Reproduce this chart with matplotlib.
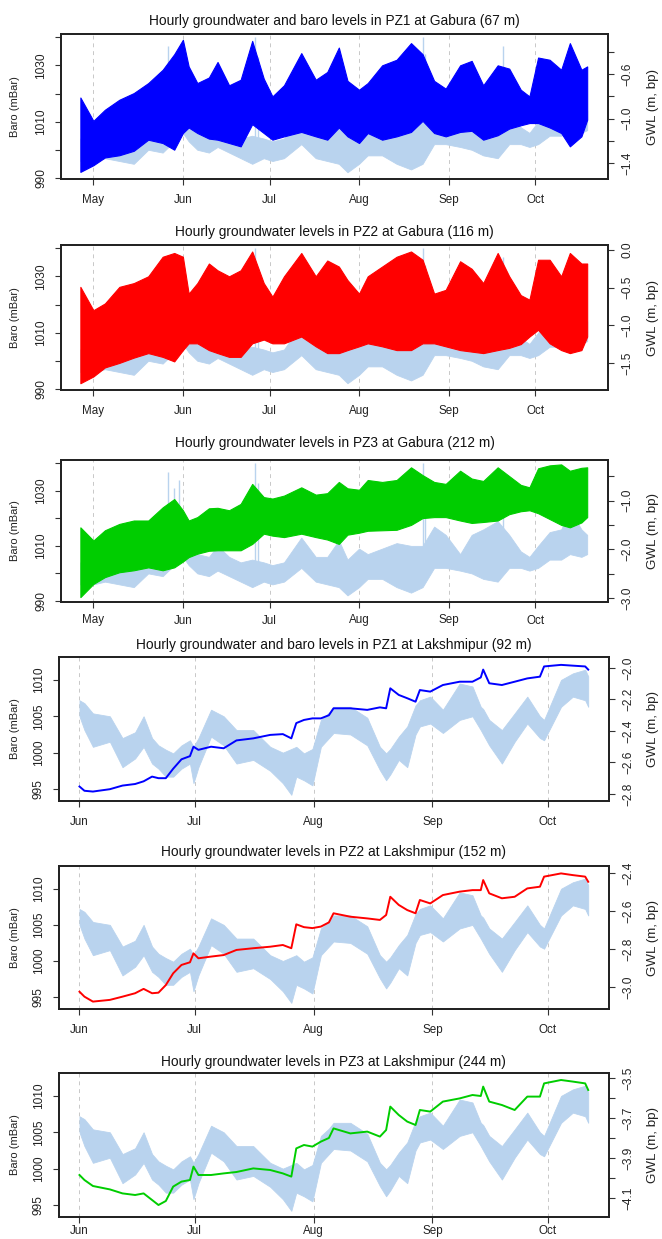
import numpy as np
import matplotlib
matplotlib.use("Agg")
import matplotlib.pyplot as plt
import matplotlib.dates as mdates

plt.rcParams['font.family'] = ['Liberation Sans', 'DejaVu Sans']

BARO_COL = '#B9D3EE'

# ---- Gabura (days since 1 May), envelopes of the tidal signal ----
g_day = [-4.5, 0, 4, 9, 14, 19, 24, 28, 31, 33, 36, 40, 43, 47, 51, 55, 59, 62, 66, 72,
         77, 81, 85, 88, 92, 95, 100, 105, 110, 114, 118, 122, 127, 131, 135, 140, 144,
         148, 151, 154, 158, 162, 165, 169, 171]
g_baro_hi = [1004, 1004, 1004, 1004, 1005, 1007, 1009, 1011, 1015, 1009, 1007, 1006, 1010,
             1006, 1004, 1005, 1004, 1003, 1004, 1013, 1006, 1006, 1012, 1005, 1009, 1007,
             1009, 1011, 1010, 1010, 1017, 1014, 1007, 1014, 1016, 1019, 1014, 1008, 1006,
             1010, 1015, 1016, 1023, 1016, 1014]
g_baro_lo = [996, 996, 997, 996, 995, 1000, 999, 1003, 1006, 1003, 1000, 999, 1001, 999,
             997, 995, 997, 996, 997, 1002, 997, 996, 995, 992, 995, 998, 998, 995, 993,
             995, 1002, 1002, 1001, 1000, 998, 997, 1002, 1002, 1001, 1002, 1005, 1005,
             1007, 1006, 1007]
g_spike_day = [26, 28, 29.5, 56, 57, 114, 115, 142]
g_spike_lo = [1005, 1005, 1006, 1003, 1003, 1006, 1006, 1008]
g_spike_hi = [1037, 1031, 1034, 1040, 1033, 1040, 1034, 1037]

g_pz1_hi = [-0.81, -1.02, -0.92, -0.83, -0.77, -0.68, -0.56, -0.42, -0.29, -0.53, -0.68,
            -0.63, -0.49, -0.70, -0.65, -0.30, -0.64, -0.80, -0.70, -0.41, -0.65, -0.58,
            -0.36, -0.66, -0.74, -0.68, -0.52, -0.47, -0.32, -0.42, -0.66, -0.73, -0.52,
            -0.48, -0.70, -0.52, -0.55, -0.74, -0.80, -0.45, -0.47, -0.56, -0.32, -0.56, -0.53]
g_pz1_lo = [-1.48, -1.42, -1.35, -1.33, -1.29, -1.19, -1.22, -1.28, -1.13, -1.08, -1.13,
            -1.18, -1.19, -1.22, -1.25, -1.05, -1.13, -1.19, -1.16, -1.12, -1.16, -1.19,
            -1.08, -1.16, -1.22, -1.13, -1.19, -1.16, -1.12, -1.02, -1.13, -1.16, -1.12,
            -1.11, -1.19, -1.15, -1.09, -1.06, -1.04, -1.04, -1.08, -1.13, -1.25, -1.16, -1.01]
g_pz2_hi = [-0.49, -0.80, -0.71, -0.49, -0.44, -0.35, -0.09, -0.04, -0.09, -0.58, -0.44,
            -0.18, -0.27, -0.35, -0.27, -0.02, -0.44, -0.62, -0.35, -0.04, -0.35, -0.14,
            -0.22, -0.40, -0.58, -0.35, -0.22, -0.09, -0.02, -0.13, -0.58, -0.53, -0.15,
            -0.25, -0.44, -0.04, -0.35, -0.60, -0.66, -0.13, -0.13, -0.35, -0.04, -0.18, -0.18]
g_pz2_lo = [-1.77, -1.68, -1.56, -1.50, -1.43, -1.37, -1.42, -1.48, -1.33, -1.24, -1.24,
            -1.33, -1.37, -1.42, -1.42, -1.24, -1.19, -1.24, -1.24, -1.15, -1.28, -1.37,
            -1.37, -1.33, -1.28, -1.24, -1.28, -1.33, -1.33, -1.24, -1.24, -1.28, -1.33,
            -1.35, -1.37, -1.33, -1.30, -1.25, -1.15, -1.06, -1.24, -1.33, -1.37, -1.33, -1.15]
g_pz3_hi = [-1.55, -1.82, -1.61, -1.48, -1.41, -1.41, -1.14, -0.97, -1.20, -1.41, -1.34,
            -1.16, -1.15, -1.20, -1.07, -0.66, -0.93, -0.96, -0.90, -0.73, -0.88, -0.85,
            -0.62, -0.75, -0.78, -0.58, -0.62, -0.58, -0.32, -0.48, -0.62, -0.66, -0.39,
            -0.55, -0.60, -0.32, -0.50, -0.68, -0.73, -0.34, -0.28, -0.26, -0.39, -0.33, -0.32]
g_pz3_lo = [-2.98, -2.71, -2.57, -2.47, -2.43, -2.37, -2.43, -2.37, -2.25, -2.16, -2.09,
            -2.03, -2.02, -2.02, -2.02, -1.89, -1.68, -1.72, -1.75, -1.68, -1.75, -1.80,
            -1.89, -1.70, -1.66, -1.62, -1.61, -1.60, -1.50, -1.36, -1.34, -1.34, -1.41,
            -1.46, -1.44, -1.41, -1.28, -1.22, -1.20, -1.26, -1.38, -1.50, -1.55, -1.45, -1.34]

# ---- Lakshmipur (days since 1 June) ----
l_day = [0, 1.3, 3.5, 7.9, 11.2, 14.5, 16.7, 18.9, 20.6, 22.5, 24.4, 26.6, 28.8, 29.7, 31,
         34.3, 37.6, 40.9, 45.3, 49.7, 53, 55.2, 56.5, 58.5, 60.7, 62.9, 65, 66.2, 70.6, 75,
         78.3, 79.9, 81, 83.2, 85.4, 87.6, 88.7, 91.4, 94.7, 99.1, 102.4, 104.6, 105.2,
         106.8, 110.1, 113.4, 116.7, 120.0, 121.1, 125.5, 128.6, 131.8, 132.6]
l_baro_hi = [1007.2, 1006.8, 1005.4, 1005.0, 1002.0, 1002.8, 1005.0, 1002.0, 1001.0, 1000.4,
             999.9, 1001.0, 1001.7, 1000.8, 1002.0, 1005.9, 1005.0, 1003.1, 1003.1, 1000.8,
             1000.0, 1000.5, 1000.8, 999.9, 1000.5, 1004.5, 1005.5, 1006.3, 1006.3, 1004.8,
             1000.8, 999.9, 1000.5, 1002.2, 1003.6, 1006.5, 1007.2, 1007.7, 1005.9, 1009.5,
             1009.1, 1006.3, 1006.0, 1004.5, 1003.1, 1005.4, 1007.7, 1005.0, 1004.5, 1010.0,
             1010.9, 1011.4, 1010.5]
l_baro_lo = [1005.0, 1003.1, 1000.8, 1001.5, 998.0, 999.2, 1000.8, 998.5, 997.8, 996.7,
             996.7, 997.8, 998.5, 995.8, 998.0, 1002.2, 1001.0, 998.5, 999.0, 997.5, 995.8,
             994.2, 996.7, 996.2, 995.5, 1000.8, 1002.0, 1002.7, 1002.5, 1001.0, 997.6,
             996.2, 997.0, 999.0, 998.0, 1002.5, 1003.6, 1004.0, 1002.7, 1004.5, 1005.0,
             1003.1, 1002.5, 1001.0, 998.5, 1001.5, 1004.0, 1002.0, 1001.7, 1006.3, 1007.7,
             1007.2, 1006.3]
l_pz1 = [-2.753, -2.78, -2.785, -2.77, -2.747, -2.737, -2.72, -2.69, -2.70, -2.70, -2.64,
         -2.58, -2.56, -2.50, -2.52, -2.50, -2.51, -2.46, -2.447, -2.425, -2.42, -2.447,
         -2.35, -2.33, -2.32, -2.32, -2.30, -2.256, -2.256, -2.266, -2.25, -2.256, -2.129,
         -2.171, -2.192, -2.214, -2.140, -2.150, -2.108, -2.087, -2.087, -2.06, -2.01,
         -2.097, -2.108, -2.087, -2.066, -2.055, -1.99, -1.98, -1.985, -1.99, -2.01]
l_pz2 = [-3.025, -3.051, -3.077, -3.068, -3.051, -3.033, -3.01, -3.033, -3.03, -2.99,
         -2.928, -2.884, -2.87, -2.823, -2.849, -2.84, -2.832, -2.805, -2.796, -2.788,
         -2.779, -2.796, -2.67, -2.685, -2.69, -2.682, -2.66, -2.612, -2.63, -2.639, -2.647,
         -2.621, -2.525, -2.568, -2.595, -2.612, -2.542, -2.56, -2.516, -2.498, -2.49,
         -2.49, -2.437, -2.507, -2.533, -2.525, -2.481, -2.472, -2.419, -2.402, -2.411,
         -2.419, -2.446]
l_pz3 = [-3.985, -4.01, -4.04, -4.057, -4.077, -4.085, -4.077, -4.11, -4.135, -4.115,
         -4.043, -4.018, -4.01, -3.943, -3.985, -3.985, -3.977, -3.97, -3.952, -3.96,
         -3.977, -3.993, -3.852, -3.835, -3.843, -3.818, -3.80, -3.752, -3.777, -3.768,
         -3.793, -3.76, -3.643, -3.685, -3.718, -3.735, -3.66, -3.668, -3.618, -3.602,
         -3.585, -3.59, -3.543, -3.618, -3.635, -3.66, -3.593, -3.593, -3.527, -3.51,
         -3.518, -3.527, -3.56]

titles = ["Hourly groundwater and baro levels in PZ1 at Gabura (67 m)",
          "Hourly groundwater levels in PZ2 at Gabura (116 m)",
          "Hourly groundwater levels in PZ3 at Gabura (212 m)",
          "Hourly groundwater and baro levels in PZ1 at Lakshmipur (92 m)",
          "Hourly groundwater levels in PZ2 at Lakshmipur (152 m)",
          "Hourly groundwater levels in PZ3 at Lakshmipur (244 m)"]


def to_dates(origin, days):
    hours = np.round(np.asarray(days, dtype=float) * 24).astype(int)
    return mdates.date2num(np.datetime64(origin) + hours.astype('timedelta64[h]'))


def fmt(v, nd):
    s = f"{abs(v):.{nd}f}"
    return ("\u2212" + s) if v < 0 else s


W, H = 662, 1239
fig = plt.figure(figsize=(W / 100, H / 100), dpi=100)


def panel(px, title_y, title, xlim, t, b_hi, b_lo, blim, bticks, blabels,
          gw, col, glim, gticks, glabeled, gdec, spikes=None, xpad=7):
    x0, x1, y0, y1 = px
    ax = fig.add_axes([x0 / W, 1 - y1 / H, (x1 - x0) / W, (y1 - y0) / H])
    ax2 = ax.twinx()

    # baro in the back
    ax.fill_between(t, b_lo, b_hi, color=BARO_COL, lw=0.6, edgecolor=BARO_COL, zorder=2)
    if spikes is not None:
        ax.vlines(spikes[0], spikes[1], spikes[2], color=BARO_COL, lw=1.0, zorder=2)

    # groundwater
    if len(gw) == 2:
        ax2.fill_between(t, gw[1], gw[0], color=col, lw=0.8, edgecolor=col, zorder=3)
    else:
        ax2.plot(t, gw[0], color=col, lw=1.4, zorder=3)

    ax.set_xlim(to_dates(*xlim[0]), to_dates(*xlim[1]))
    ax.xaxis.set_major_locator(mdates.MonthLocator())
    ax.xaxis.set_major_formatter(mdates.DateFormatter('%b'))
    for m in ax.get_xticks():
        ax.axvline(m, color='#C8C8C8', lw=0.7, ls=(0, (4, 4)), zorder=1)

    ax.set_ylim(*blim)
    ax.set_yticks(bticks)
    ax.set_yticklabels([str(b) if b in blabels else '' for b in bticks])
    ax2.set_ylim(*glim)
    ax2.set_yticks(gticks)
    ax2.set_yticklabels([fmt(g, gdec) if any(abs(g - q) < 1e-6 for q in glabeled) else ''
                         for g in gticks])

    ax.tick_params(axis='both', direction='out', length=4, width=0.8, labelsize=8.6,
                   color='#333333')
    ax.tick_params(axis='x', pad=xpad, labelsize=8.4, labelcolor='#222222')
    ax.tick_params(axis='y', labelrotation=90, pad=6, labelcolor='#222222')
    ax2.tick_params(axis='y', direction='out', length=4, width=0.8, labelsize=8.6,
                    labelrotation=90, pad=6, color='#333333', labelcolor='#222222')
    for lab in ax.get_yticklabels() + ax2.get_yticklabels():
        lab.set_va('center')
    for sp in list(ax.spines.values()) + list(ax2.spines.values()):
        sp.set_linewidth(1.3)
        sp.set_color('#222222')

    fig.text((x0 + x1) / 2 / W, 1 - title_y / H, title, ha='center', va='center',
             fontsize=9.9, color='#111111')
    fig.text(15 / W, 1 - (y0 + y1) / 2 / H, 'Baro (mBar)', rotation=90, ha='center',
             va='center', fontsize=8.0, color='#222222')
    fig.text(653 / W, 1 - (y0 + y1) / 2 / H, 'GWL (m, bp)', rotation=90, ha='center',
             va='center', fontsize=9.6, color='#222222')


g_t = to_dates('2015-05-01', g_day)
l_t = to_dates('2015-06-01', l_day)
g_xlim = (('2015-05-01', -11.2), ('2015-05-01', 178.2))
l_xlim = (('2015-06-01', -5.4), ('2015-06-01', 138.0))
g_spikes = (to_dates('2015-05-01', g_spike_day), g_spike_lo, g_spike_hi)

g_bticks = [990, 1000, 1010, 1020, 1030, 1040]
g_blab = [990, 1010, 1030]
g_blim = (989.6, 1041.2)
l_bticks = [995, 1000, 1005, 1010]
l_blim = (993.35, 1013.15)

panel((61, 608, 34, 179), 21, titles[0], g_xlim, g_t, g_baro_hi, g_baro_lo, g_blim,
      g_bticks, g_blab, (g_pz1_hi, g_pz1_lo), '#0000FF', (-1.544, -0.238),
      [-0.4, -0.6, -0.8, -1.0, -1.2, -1.4], [-0.6, -1.0, -1.4], 1, g_spikes)
panel((61, 608, 245, 390), 232, titles[1], g_xlim, g_t, g_baro_hi, g_baro_lo, g_blim,
      g_bticks, g_blab, (g_pz2_hi, g_pz2_lo), '#FF0000', (-1.86, 0.066),
      [0.0, -0.5, -1.0, -1.5], [0.0, -0.5, -1.0, -1.5], 1, g_spikes)
panel((61, 608, 460, 602), 443, titles[2], g_xlim, g_t, g_baro_hi, g_baro_lo, g_blim,
      g_bticks, g_blab, (g_pz3_hi, g_pz3_lo), '#00CD00', (-3.08, -0.17),
      [-0.5, -1.0, -1.5, -2.0, -2.5, -3.0], [-1.0, -2.0, -3.0], 1, g_spikes, xpad=5)
panel((58.7, 609, 657, 801), 645, titles[3], l_xlim, l_t, l_baro_hi, l_baro_lo, l_blim,
      l_bticks, l_bticks, (l_pz1,), '#0000FF', (-2.845, -1.93),
      [-2.0, -2.2, -2.4, -2.6, -2.8], [-2.0, -2.2, -2.4, -2.6, -2.8], 1)
panel((58.7, 609, 866, 1009), 852, titles[4], l_xlim, l_t, l_baro_hi, l_baro_lo, l_blim,
      l_bticks, l_bticks, (l_pz2,), '#FF0000', (-3.116, -2.363),
      [-2.4, -2.6, -2.8, -3.0], [-2.4, -2.6, -2.8, -3.0], 1)
panel((58.7, 609, 1073, 1217), 1062, titles[5], l_xlim, l_t, l_baro_hi, l_baro_lo, l_blim,
      l_bticks, l_bticks, (l_pz3,), '#00CD00', (-4.195, -3.475),
      [-3.5, -3.6, -3.7, -3.8, -3.9, -4.0, -4.1], [-3.5, -3.7, -3.9, -4.1], 1, xpad=2)

fig.savefig('out.png', dpi=100)
